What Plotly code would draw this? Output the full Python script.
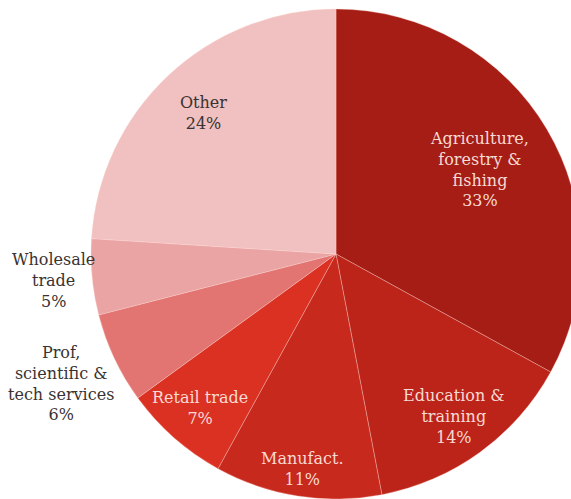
import math
import plotly.graph_objects as go

# Employment share by industry
labels = ["Agriculture,<br>forestry &<br>fishing", "Education &<br>training", "Manufact.",
          "Retail trade", "Prof,<br>scientific &<br>tech services", "Wholesale<br>trade", "Other"]
values = [33, 14, 11, 7, 6, 5, 24]
colors = ["#A51D14", "#BD2419", "#C8291D", "#DB3123", "#E27572", "#EAA4A4", "#F0C1C0"]
text_colors = ["#F7DAD4", "#F7DAD4", "#F7DAD4", "#F7DAD4", "#3A3232", "#3A3232", "#3A3232"]
# radial placement of each label as a fraction of the pie radius
label_radius = [0.68, 0.82, 0.89, 0.84, 1.24, 1.16, 0.79]

W, H = 600, 499
cx, cy, R = 336, 254, 245  # pixel centre (from top-left) and radius
SERIF = "DejaVu Serif"

fig = go.Figure(go.Pie(
    labels=labels,
    values=values,
    sort=False,
    direction="clockwise",
    rotation=0,
    marker=dict(colors=colors, line=dict(color="rgba(255,215,210,0.55)", width=0.6)),
    textinfo="none",
    hoverinfo="label+percent",
    showlegend=False,
    domain=dict(x=[(cx - R) / W, (cx + R) / W], y=[(H - cy - R) / H, (H - cy + R) / H]),
))

total = sum(values)
start = 90.0
for lab, v, tc, rf in zip(labels, values, text_colors, label_radius):
    sweep = 360.0 * v / total
    mid = math.radians(start - sweep / 2)
    start -= sweep
    px = cx + rf * R * math.cos(mid)
    py = cy - rf * R * math.sin(mid)
    fig.add_annotation(
        x=px / W, y=1 - py / H, xref="paper", yref="paper",
        text=f"{lab}<br>{v}%", showarrow=False,
        font=dict(family=SERIF, size=16, color=tc),
        xanchor="center", yanchor="middle", align="center",
    )

fig.update_layout(
    width=W, height=H,
    margin=dict(l=0, r=0, t=0, b=0),
    paper_bgcolor="white", plot_bgcolor="white",
    font=dict(family=SERIF, size=16),
)

fig.write_html(
    "out.html",
    post_script="document.documentElement.style.overflow='hidden';document.body.style.overflow='hidden';document.body.style.margin='0';",
)
